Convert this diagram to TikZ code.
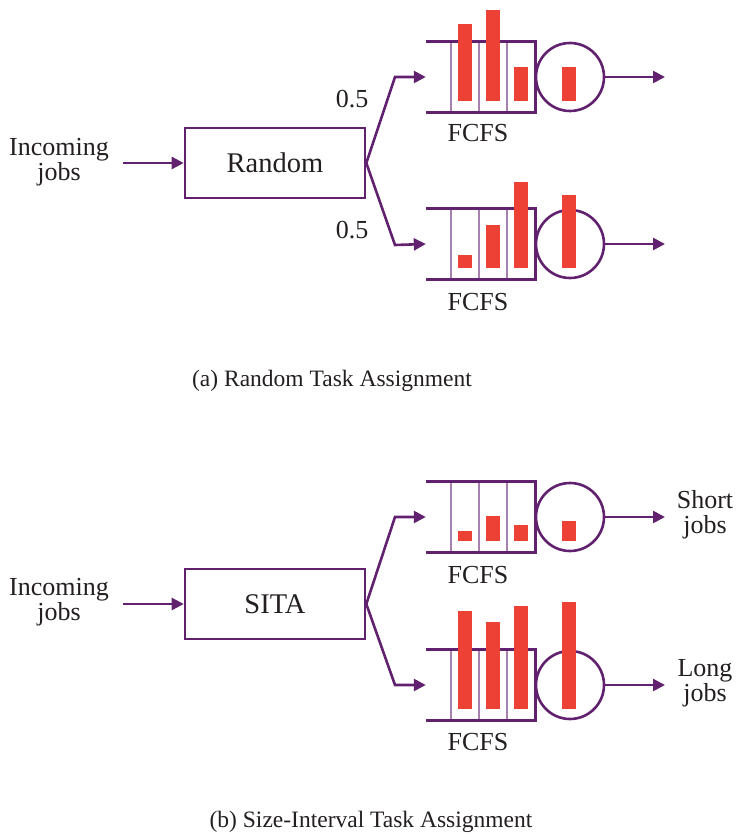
\documentclass[tikz,border=0pt]{standalone}
\usepackage{fontspec}
\setmainfont{Liberation Serif}
\usetikzlibrary{arrows.meta}
\definecolor{pur}{HTML}{62216E}
\definecolor{lpur}{HTML}{A680AE}
\definecolor{barred}{HTML}{EE4136}
\definecolor{txt}{HTML}{231F20}
\tikzset{
  pline/.style={draw=pur, line width=2.6pt},
  parr/.style={pline, -{Triangle[length=12pt,width=12pt]}},
  divider/.style={draw=lpur, line width=1.3pt},
  jobbar/.style={fill=barred, draw=none},
  lbl/.style={text=txt, font=\fontsize{26}{25}\selectfont, align=center, inner sep=0pt},
  captxt/.style={text=txt, font=\fontsize{23.5}{26}\selectfont, inner sep=0pt},
  boxnode/.style={pline, minimum width=180pt, minimum height=70pt, inner sep=0pt, text=txt, font=\fontsize{28.5}{30}\selectfont},
  qnode/.style={minimum width=109pt, minimum height=71pt, inner sep=0pt, draw=none},
  snode/.style={pline, circle, minimum size=68pt, inner sep=0pt},
}
% #1 name, #2 centre y, #3-#6 bar tops
\newcommand\queuesys[6]{%
  \node[qnode] (#1q) at (480.5,#2) {};
  \draw[divider] (451,#2-36) -- (451,#2+35);
  \draw[divider] (479,#2-36) -- (479,#2+35);
  \draw[divider] (507,#2-36) -- (507,#2+35);
  \draw[pline] (#1q.north west) -- (#1q.north east) -- (#1q.south east) -- (#1q.south west);
  \node[snode] (#1s) at (570,#2) {};
  \coordinate (#1o) at (665,#2);
  \draw[parr] (#1s.east) -- (#1o);
  \fill[jobbar] (458,#3) rectangle (472,#2+24);
  \fill[jobbar] (486,#4) rectangle (500,#2+24);
  \fill[jobbar] (514,#5) rectangle (528,#2+24);
  \fill[jobbar] (562,#6) rectangle (576,#2+24);
}
\begin{document}
\begin{tikzpicture}[x=1pt,y=-1pt]
\useasboundingbox (0,0) rectangle (737,837);
% ---------- (a) ----------
\node[lbl] (inA) at (59,162) {Incoming\\jobs};
\node[boxnode] (rand) at (275,163) {Random};
\draw[parr] (123,163) coordinate (inAe) -- (rand.west);
\queuesys{a1}{77}{24}{10}{67}{67}
\queuesys{a2}{244}{255}{225}{182}{195}
\coordinate (ka1) at (395,77);
\coordinate (ka2) at (395,245);
\draw[parr] (rand.east) -- (ka1) -- (a1q.west);
\draw[parr] (rand.east) -- (ka2) -- (a2q.west);
\node[lbl] (pa1) at (352,99) {0.5};
\node[lbl] (pa2) at (352,230) {0.5};
\node[lbl] (fa1) at (478,133) {FCFS};
\node[lbl] (fa2) at (478,302) {FCFS};
\node[captxt] (capa) at (332,381) {(a) Random Task Assignment};
% ---------- (b) ----------
\node[lbl] (inB) at (59,602) {Incoming\\jobs};
\node[boxnode] (sita) at (275,604) {SITA};
\draw[parr] (123,604) coordinate (inBe) -- (sita.west);
\queuesys{b1}{517}{531}{516}{525}{521}
\queuesys{b2}{685}{611}{622}{606}{602}
\coordinate (kb1) at (395,517);
\coordinate (kb2) at (395,685);
\draw[parr] (sita.east) -- (kb1) -- (b1q.west);
\draw[parr] (sita.east) -- (kb2) -- (b2q.west);
\node[lbl] (fb1) at (478,575) {FCFS};
\node[lbl] (fb2) at (478,742) {FCFS};
\node[lbl] (sj) at (705,515) {Short\\jobs};
\node[lbl] (lj) at (705,683) {Long\\jobs};
\node[captxt] (capb) at (371,822) {(b) Size-Interval Task Assignment};
\end{tikzpicture}
\end{document}
